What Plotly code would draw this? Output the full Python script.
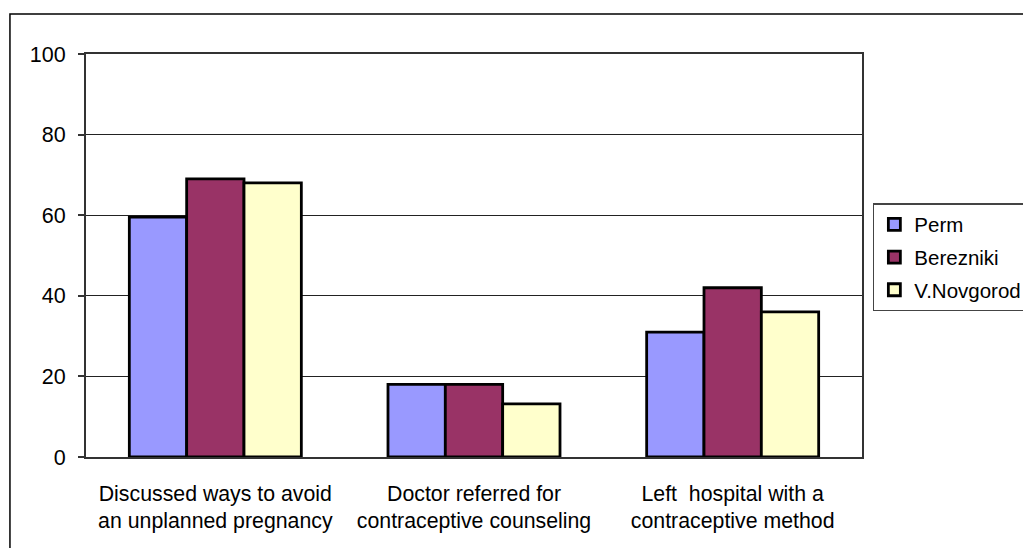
import plotly.graph_objects as go

categories = [
    "Discussed ways to avoid<br>an unplanned pregnancy",
    "Doctor referred for<br>contraceptive counseling",
    "Left\u00a0 hospital with a<br>contraceptive method",
]
perm = [59.5, 18, 31]
berezniki = [69, 18, 42]
novgorod = [68, 13.2, 36]
series_names = ["Perm", "Berezniki", "V.Novgorod"]
series_colors = ["#9999FF", "#993366", "#FFFFCC"]
y_ticks = [0, 20, 40, 60, 80, 100]

FONT = "Liberation Sans, Arial, sans-serif"

fig = go.Figure()
for name, vals, col in zip(series_names, [perm, berezniki, novgorod], series_colors):
    fig.add_trace(go.Bar(
        name=name, x=categories, y=vals,
        marker=dict(color=col, line=dict(color="#000000", width=2.8)),
        legendgroup=name,
    ))

fig.update_layout(
    width=1060, height=548,
    margin=dict(l=78, r=206, t=46, b=99),
    paper_bgcolor="white", plot_bgcolor="white",
    barmode="group", bargap=0.335, bargroupgap=0,
    font=dict(family=FONT, size=21, color="#000000"),
    showlegend=True,
    legend=dict(
        x=1.014, y=0.63, xanchor="left", yanchor="top",
        bordercolor="#444444", borderwidth=1.5, bgcolor="white",
        font=dict(family=FONT, size=20.5, color="#000000"),
        tracegroupgap=3, itemwidth=30,
    ),
    shapes=[dict(
        type="rect", xref="paper", yref="paper",
        x0=-0.098, x1=1.5, y0=-0.6, y1=1.099,
        line=dict(color="#000000", width=1.5), fillcolor="rgba(0,0,0,0)",
        layer="below",
    )],
)
fig.update_yaxes(
    range=[0, 100], tickvals=y_ticks,
    showgrid=True, gridcolor="#222222", gridwidth=1,
    showline=True, linecolor="#333333", linewidth=2, mirror=True,
    ticks="outside", ticklen=6, tickcolor="#333333", tickwidth=1.5,
    ticklabelstandoff=8,
    zeroline=False,
    tickfont=dict(family=FONT, size=21.5, color="#000000"),
)
fig.update_xaxes(
    showline=True, linecolor="#333333", linewidth=2, mirror=True,
    ticks="outside", ticklen=16, tickcolor="rgba(0,0,0,0)",
    tickfont=dict(family=FONT, size=21.3, color="#000000"),
)

fig.write_html("out.html")
